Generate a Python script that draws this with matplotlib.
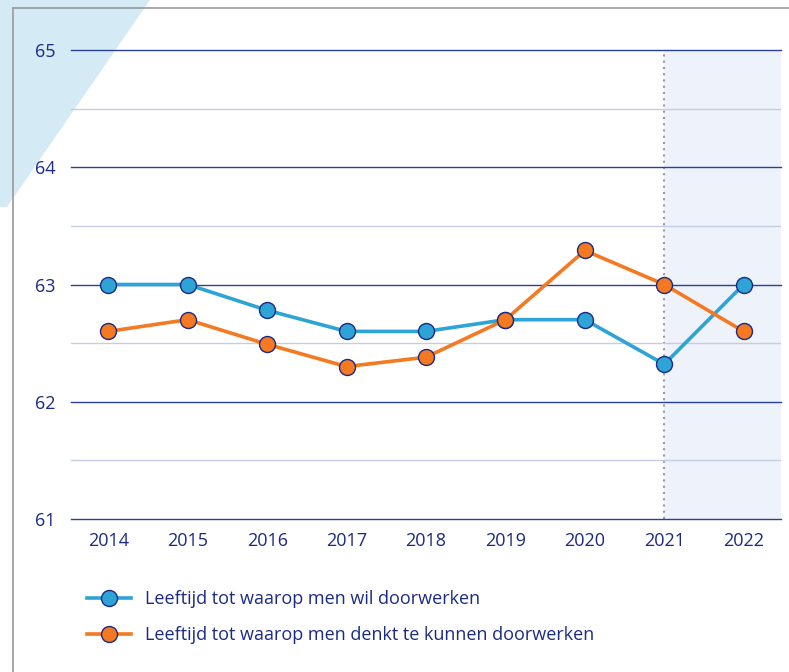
import matplotlib
matplotlib.use("Agg")
import matplotlib.pyplot as plt
from matplotlib.lines import Line2D
from matplotlib.patches import Polygon

plt.rcParams['font.family'] = ['Open Sans', 'DejaVu Sans']

years = ['2014', '2015', '2016', '2017', '2018', '2019', '2020', '2021', '2022']
wil = [63.0, 63.0, 62.78, 62.6, 62.6, 62.7, 62.7, 62.32, 63.0]
kunnen = [62.6, 62.7, 62.49, 62.3, 62.38, 62.7, 63.29, 63.0, 62.6]
labels = ['Leeftijd tot waarop men wil doorwerken',
          'Leeftijd tot waarop men denkt te kunnen doorwerken']

navy = '#1B2A84'
blue = '#2EA3D5'
orange = '#F47920'
W, H = 789, 672

fig = plt.figure(figsize=(W / 100, H / 100), dpi=100)

# decorative triangle + frame
fig.add_artist(Polygon([(0, 1), (150 / W, 1), (7 / W, 1 - 207 / H), (0, 1 - 207 / H)],
                       closed=True, transform=fig.transFigure, facecolor='#D4EBF5',
                       edgecolor='none', zorder=0))
fig.add_artist(Line2D([13 / W, 13 / W], [0, 1 - 8 / H], transform=fig.transFigure,
                      color='#999999', lw=1.2))
fig.add_artist(Line2D([13 / W, 1], [1 - 8 / H, 1 - 8 / H], transform=fig.transFigure,
                      color='#999999', lw=1.2))

ax = fig.add_axes([71 / W, (H - 519) / H, (781 - 71) / W, (519 - 50) / H])
ax.patch.set_alpha(0)
x = list(range(len(years)))

ax.axvspan(7, 8.47, color='#EEF2FA', zorder=0, lw=0)
ax.axvline(7, color='#999999', lw=1.5, ls=(0, (1, 2)), zorder=1)

for v in [61.5, 62.5, 63.5, 64.5]:
    ax.axhline(v, color='#C5CCE5', lw=1, zorder=1)
for v in [61, 62, 63, 64, 65]:
    ax.axhline(v, color='#2A3F9A', lw=1, zorder=1, clip_on=False)

ax.plot(x, wil, color=blue, lw=2.6, marker='o', ms=11.5, mfc=blue, mec=navy,
        mew=1, label=labels[0], zorder=3)
ax.plot(x, kunnen, color=orange, lw=2.6, marker='o', ms=11.5, mfc=orange, mec=navy,
        mew=1, label=labels[1], zorder=3)

ax.set_xlim(-0.47, 8.47)
ax.set_ylim(61, 65)
ax.set_xticks(x)
ax.set_xticklabels(years)
ax.set_yticks([61, 62, 63, 64, 65])
ax.set_yticklabels(['61', '62', '63', '64', '65'])
ax.tick_params(axis='both', length=0, colors=navy, labelsize=13)
ax.tick_params(axis='y', pad=11)
ax.tick_params(axis='x', pad=9)
for s in ax.spines.values():
    s.set_visible(False)

leg = fig.legend(loc='upper left', bbox_to_anchor=(71 / W, 1 - 574 / H), frameon=False,
                 fontsize=13, labelcolor=navy, handlelength=2.4, handletextpad=0.8,
                 labelspacing=1.0)

fig.savefig('out.png', dpi=100)
